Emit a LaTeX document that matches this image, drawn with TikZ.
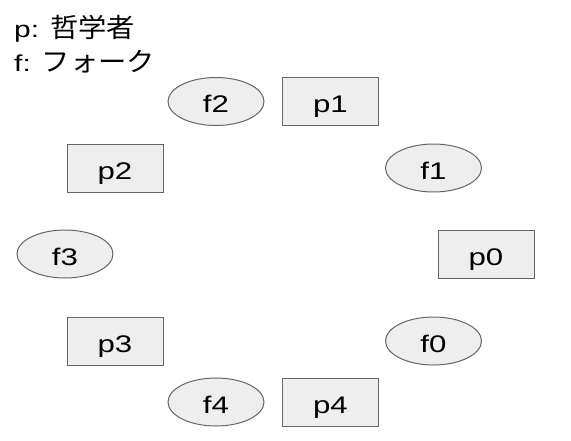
\documentclass[tikz,border=0pt]{standalone}
\usepackage{fontspec}
\setmainfont{Liberation Sans}[FakeStretch=1.3]
\newfontfamily\jpfont{Noto Sans CJK JP}[Scale=1.15, FakeStretch=1.07]
\usetikzlibrary{shapes.geometric}

\definecolor{boxfill}{HTML}{EEEEEE}
\definecolor{boxline}{HTML}{666666}

\tikzset{
  nodebase/.style={draw=boxline, fill=boxfill, line width=1pt,
    minimum width=96pt, minimum height=48pt, inner sep=0pt,
    text height=22pt, text depth=0pt, font=\fontsize{24}{28}\selectfont},
  phil/.style={nodebase, rectangle},
  fork/.style={nodebase, ellipse},
  legend/.style={anchor=base west, inner sep=0pt, font=\fontsize{23}{27}\selectfont}
}

\begin{document}
\begin{tikzpicture}[x=1pt, y=-1pt]
  \useasboundingbox (0,0) rectangle (571,440);

  % Legend
  \node[legend] (legendp) at (14,37) {p: {\jpfont 哲学者}};
  \node[legend] (legendf) at (14,71) {f: {\jpfont フォーク}};

  % Philosophers
  \foreach \name/\x/\y in {p0/486/254, p1/330.5/101.5, p2/115/168,
                           p3/115/341, p4/330.5/402}
    \node[phil] (\name) at (\x,\y) {\name};

  % Forks
  \foreach \name/\x/\y in {f0/433.5/341, f1/433.5/168, f2/216/101.5,
                           f3/65/254, f4/216/402}
    \node[fork] (\name) at (\x,\y) {\name};
\end{tikzpicture}
\end{document}
